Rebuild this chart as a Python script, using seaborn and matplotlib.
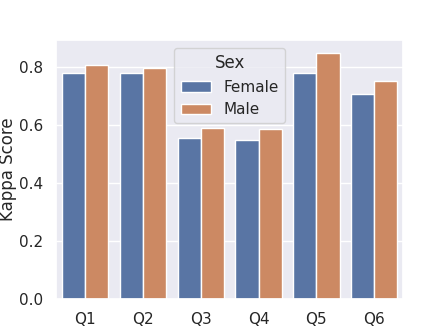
import matplotlib
matplotlib.use("Agg")
import matplotlib.pyplot as plt
import pandas as pd
import seaborn as sns

questions = ["Q1", "Q2", "Q3", "Q4", "Q5", "Q6"]
female = [0.779, 0.779, 0.555, 0.546, 0.777, 0.704]
male = [0.807, 0.794, 0.588, 0.586, 0.848, 0.750]

df = pd.DataFrame({
    "Question": questions * 2,
    "Kappa Score": female + male,
    "Sex": ["Female"] * len(questions) + ["Male"] * len(questions),
})

sns.set_theme()
fig = plt.figure(figsize=(4.48, 3.36), dpi=100)
ax = sns.barplot(x="Question", y="Kappa Score", hue="Sex", data=df)
ax.set_xlabel("")
ax.yaxis.set_label_coords(-0.113, 0.5)
sns.move_legend(ax, "upper center")
fig.savefig("out.png", dpi=100)
